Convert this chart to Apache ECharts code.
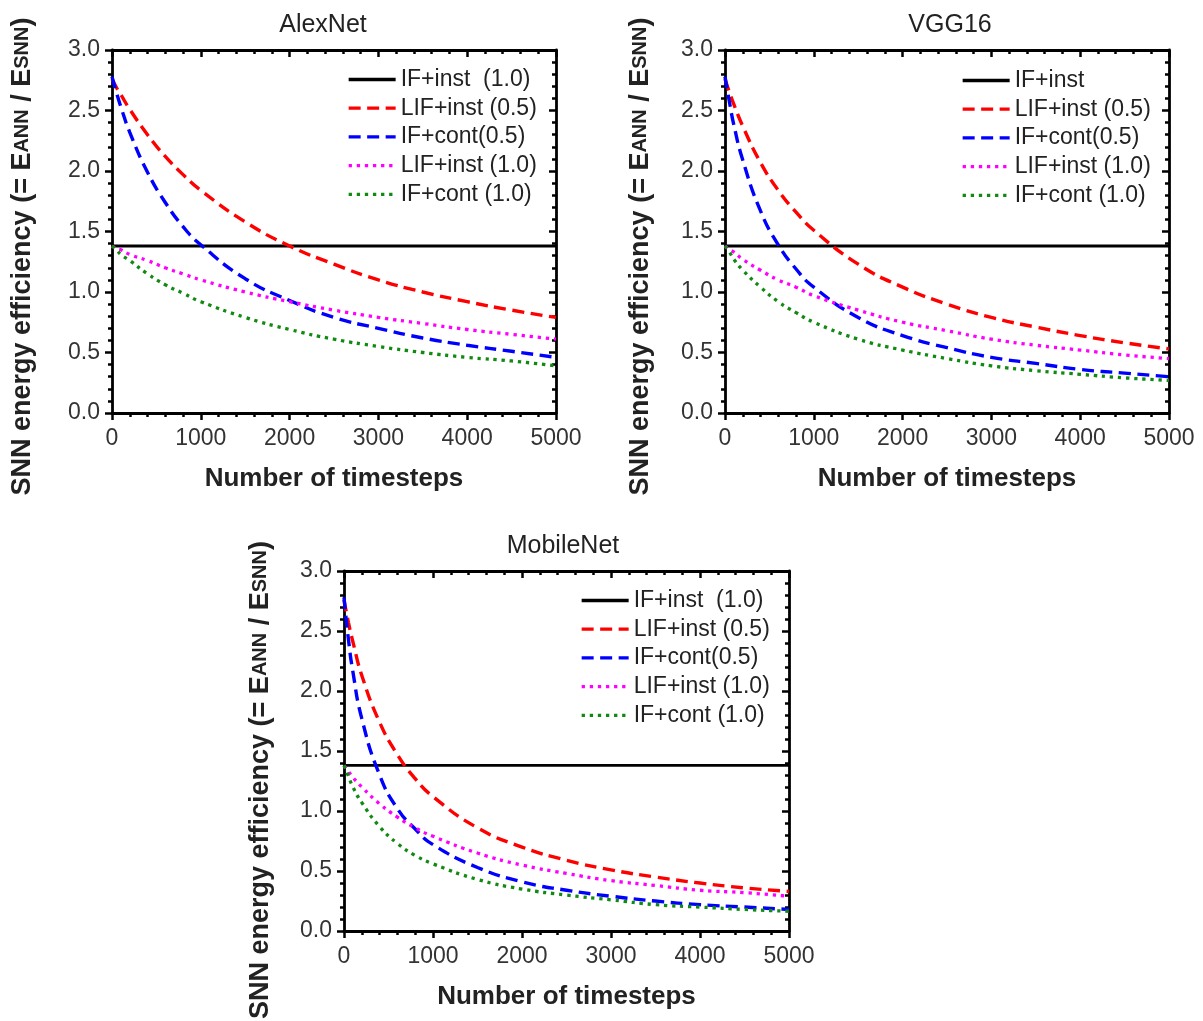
<!DOCTYPE html>
<html>
<head>
<meta charset="utf-8">
<script src="https://cdn.jsdelivr.net/npm/echarts@6/dist/echarts.min.js"></script>
<style>
html,body{margin:0;padding:0;background:#fff;}
#chart{width:1203px;height:1021px;}
</style>
</head>
<body>
<div id="chart"></div>
<script>
// Timesteps at which the curves were read
const timesteps = [0, 50, 100, 200, 400, 600, 800, 1000, 1500, 2000, 2500, 3000, 3500, 4000, 4500, 5000];
const baseline = 1.38; // IF+inst (1.0)

// AlexNet
const alexLifInst05 = [2.76, 2.69, 2.63, 2.51, 2.30, 2.12, 1.97, 1.84, 1.58, 1.38, 1.23, 1.10, 1.00, 0.92, 0.85, 0.79];
const alexIfCont05  = [2.78, 2.65, 2.53, 2.32, 1.99, 1.74, 1.54, 1.39, 1.11, 0.93, 0.79, 0.70, 0.62, 0.56, 0.51, 0.46];
const alexLifInst10 = [1.38, 1.36, 1.35, 1.31, 1.26, 1.20, 1.15, 1.10, 1.00, 0.92, 0.85, 0.79, 0.74, 0.69, 0.65, 0.61];
const alexIfCont10  = [1.38, 1.35, 1.31, 1.26, 1.15, 1.06, 0.99, 0.92, 0.79, 0.69, 0.61, 0.55, 0.50, 0.46, 0.43, 0.39];

// VGG16
const vggLifInst05 = [2.76, 2.65, 2.55, 2.37, 2.07, 1.84, 1.66, 1.51, 1.23, 1.04, 0.90, 0.79, 0.71, 0.64, 0.58, 0.53];
const vggIfCont05  = [2.78, 2.57, 2.38, 2.09, 1.67, 1.39, 1.19, 1.04, 0.79, 0.64, 0.54, 0.46, 0.41, 0.36, 0.33, 0.30];
const vggLifInst10 = [1.38, 1.35, 1.33, 1.27, 1.18, 1.10, 1.04, 0.97, 0.85, 0.75, 0.68, 0.61, 0.56, 0.52, 0.48, 0.45];
const vggIfCont10  = [1.38, 1.33, 1.27, 1.18, 1.04, 0.92, 0.83, 0.75, 0.61, 0.52, 0.45, 0.39, 0.35, 0.32, 0.29, 0.27];

// MobileNet
const mobLifInst05 = [2.76, 2.57, 2.41, 2.13, 1.74, 1.47, 1.27, 1.12, 0.86, 0.70, 0.59, 0.51, 0.45, 0.40, 0.36, 0.33];
const mobIfCont05  = [2.78, 2.43, 2.16, 1.77, 1.30, 1.02, 0.85, 0.72, 0.53, 0.41, 0.34, 0.29, 0.25, 0.22, 0.20, 0.18];
const mobLifInst10 = [1.38, 1.33, 1.28, 1.20, 1.06, 0.95, 0.86, 0.79, 0.65, 0.55, 0.48, 0.42, 0.38, 0.34, 0.32, 0.29];
const mobIfCont10  = [1.38, 1.29, 1.20, 1.07, 0.87, 0.73, 0.63, 0.56, 0.43, 0.35, 0.30, 0.26, 0.22, 0.20, 0.18, 0.165];

const xTicks = [0, 1000, 2000, 3000, 4000, 5000];
const yTicks = [0.0, 0.5, 1.0, 1.5, 2.0, 2.5, 3.0];

const panelTitles = ['AlexNet', 'VGG16', 'MobileNet'];
const nameIfInst = ['IF+inst  (1.0)', 'IF+inst', 'IF+inst  (1.0)'];
const nameLifInst05 = 'LIF+inst (0.5)';
const nameIfCont05 = 'IF+cont(0.5)';
const nameLifInst10 = 'LIF+inst (1.0)';
const nameIfCont10 = 'IF+cont (1.0)';
const xAxisName = 'Number of timesteps';
const yAxisName = 'SNN energy efficiency (= E{s|ANN} / E{s|SNN})';

const panelData = [
  [alexLifInst05, alexIfCont05, alexLifInst10, alexIfCont10],
  [vggLifInst05, vggIfCont05, vggLifInst10, vggIfCont10],
  [mobLifInst05, mobIfCont05, mobLifInst10, mobIfCont10]
];

const FONT = '"Liberation Sans", Arial, Helvetica, sans-serif';
const grids = [
  {left: 112, top: 50, width: 444, height: 363},
  {left: 725, top: 50, width: 444, height: 363},
  {left: 344, top: 571, width: 445, height: 363}
];
const titlePos = [{x: 318, y: 8}, {x: 945, y: 8}, {x: 558, y: 529}];
const legendPos = [{x: 347, y: 68}, {x: 961, y: 69}, {x: 580, y: 589}];
const yNameGap = [76, 71, 70];
const yNameShift = [50, 50, 58];

const AX = '#000';
const LBL = '#333';

const option = {
  backgroundColor: '#fff',
  animation: false,
  title: [],
  legend: [],
  grid: [],
  xAxis: [],
  yAxis: [],
  series: []
};

function pairs(vals) { return timesteps.map((t, i) => [t, vals[i]]); }

const styles = [
  {color: '#ff0000', type: [12, 6.5], width: 3.4},
  {color: '#0000ff', type: [12, 6.5], width: 3.4},
  {color: '#ff00ff', type: [3.3, 4.8], width: 3.3},
  {color: '#108a10', type: [3.3, 4.8], width: 3.3}
];
const names = [nameLifInst05, nameIfCont05, nameLifInst10, nameIfCont10];

for (let g = 0; g < 3; g++) {
  const gr = grids[g];
  option.grid.push({left: gr.left, top: gr.top, width: gr.width, height: gr.height, containLabel: false});
  option.title.push({
    text: panelTitles[g], left: titlePos[g].x, top: titlePos[g].y, textAlign: 'center',
    textStyle: {fontFamily: FONT, fontSize: 25, fontWeight: 'normal', color: '#222'}
  });
  option.legend.push({
    orient: 'vertical', left: legendPos[g].x, top: legendPos[g].y, padding: 0,
    itemWidth: 47, itemHeight: 14, itemGap: 5.7,
    itemStyle: {opacity: 0},
    lineStyle: {width: 3.3},
    textStyle: {fontFamily: FONT, fontSize: 23, color: '#222'},
    data: [nameIfInst[g], nameLifInst05, nameIfCont05, nameLifInst10, nameIfCont10],
    selectedMode: false
  });
  // bottom x axis
  option.xAxis.push({
    type: 'value', gridIndex: g, position: 'bottom', min: 0, max: 5000, interval: 1000,
    name: xAxisName, nameLocation: 'middle', nameGap: 53,
    nameTextStyle: {fontFamily: FONT, fontSize: 26, fontWeight: 'bold', color: '#222'},
    axisLine: {show: true, onZero: false, lineStyle: {color: AX, width: 2.8}},
    axisTick: {show: true, inside: false, length: 7, lineStyle: {color: AX, width: 2.5}},
    minorTick: {show: true, splitNumber: 5, length: 4, lineStyle: {color: AX, width: 2.5}},
    axisLabel: {fontFamily: FONT, fontSize: 23, color: LBL, margin: 14, formatter: v => String(v)},
    splitLine: {show: false}
  });
  // top x axis (ticks only)
  option.xAxis.push({
    type: 'value', gridIndex: g, position: 'top', min: 0, max: 5000, interval: 1000,
    axisLine: {show: true, onZero: false, lineStyle: {color: AX, width: 2.8}},
    axisTick: {show: true, inside: true, length: 7, lineStyle: {color: AX, width: 2.5}},
    minorTick: {show: true, splitNumber: 5, length: 4, lineStyle: {color: AX, width: 2.5}},
    axisLabel: {show: false}, splitLine: {show: false}
  });
  // left y axis
  option.yAxis.push({
    type: 'value', gridIndex: g, position: 'left', min: 0, max: 3, interval: 0.5,
    name: yAxisName,
    nameLocation: 'middle', nameGap: yNameGap[g],
    nameTextStyle: {
      fontFamily: FONT, fontSize: 27, fontWeight: 'bold', color: '#222',
      padding: [0, yNameShift[g], 0, 0],
      rich: {s: {fontFamily: FONT, fontSize: 20, fontWeight: 'bold', color: '#222'}}
    },
    axisLine: {show: true, onZero: false, lineStyle: {color: AX, width: 2.8}},
    axisTick: {show: true, inside: false, length: 7, lineStyle: {color: AX, width: 2.5}},
    minorTick: {show: true, splitNumber: 5, length: 4, lineStyle: {color: AX, width: 2.5}},
    axisLabel: {fontFamily: FONT, fontSize: 23, color: LBL, margin: 12, formatter: v => v.toFixed(1)},
    splitLine: {show: false}
  });
  // right y axis (ticks only)
  option.yAxis.push({
    type: 'value', gridIndex: g, position: 'right', min: 0, max: 3, interval: 0.5,
    axisLine: {show: true, onZero: false, lineStyle: {color: AX, width: 2.8}},
    axisTick: {show: true, inside: true, length: 7, lineStyle: {color: AX, width: 2.5}},
    minorTick: {show: true, splitNumber: 5, length: 4, lineStyle: {color: AX, width: 2.5}},
    axisLabel: {show: false}, splitLine: {show: false}
  });

  // IF+inst baseline
  option.series.push({
    type: 'line', name: nameIfInst[g], xAxisIndex: 2 * g, yAxisIndex: 2 * g,
    data: [[0, baseline], [5000, baseline]],
    symbol: 'none', z: 3,
    lineStyle: {color: '#000', width: 2.8, type: 'solid'}, itemStyle: {color: '#000'}
  });
  for (let k = 0; k < 4; k++) {
    const st = styles[k];
    option.series.push({
      type: 'line', name: names[k], xAxisIndex: 2 * g, yAxisIndex: 2 * g,
      data: pairs(panelData[g][k]),
      symbol: 'none', smooth: 0.5, z: 4,
      lineStyle: {color: st.color, width: st.width, type: st.type},
      itemStyle: {color: st.color}
    });
  }
}

const chart = echarts.init(document.getElementById('chart'), null, {renderer: 'canvas'});
chart.setOption(option);
</script>
</body>
</html>
